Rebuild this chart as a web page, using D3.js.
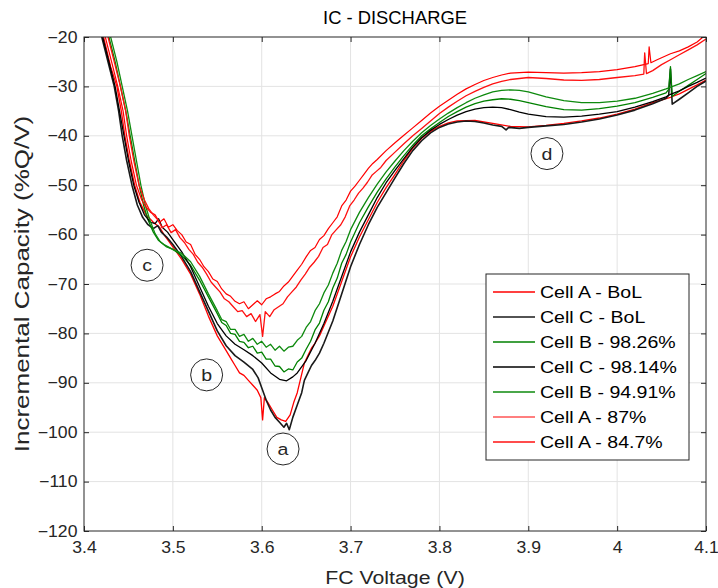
<!DOCTYPE html>
<html><head><meta charset="utf-8">
<script src="https://cdn.jsdelivr.net/npm/d3@7"></script>
<style>body{margin:0;background:#fff}svg{display:block}</style>
</head><body>
<script>
const xTicks=[3.4,3.5,3.6,3.7,3.8,3.9,4.0,4.1];
const xTickLabels=["3.4","3.5","3.6","3.7","3.8","3.9","4","4.1"];
const yTicks=[-120,-110,-100,-90,-80,-70,-60,-50,-40,-30,-20];
const legendLabels=["Cell A - BoL","Cell C - BoL","Cell B - 98.26%","Cell C - 98.14%","Cell B - 94.91%","Cell A - 87%","Cell A - 84.7%"];
const seriesColors=["#ff0000","#1a1a1a","#008000","#000000","#0e8a0e","#ff0000","#ff1010"];
const annotations=[["a",3.624,-103.4],["b",3.538,-88.4],["c",3.471,-66.2],["d",3.921,-43.6]];

const cellA_BoL=[[3.414,-12],[3.422,-20],[3.430,-26],[3.437,-30],[3.442,-35],[3.446,-40],[3.451,-45],[3.457,-50],[3.463,-53.5],[3.470,-56],[3.478,-57.5],[3.485,-58.5],[3.490,-60],[3.500,-62.5],[3.510,-65],[3.520,-68],[3.530,-72],[3.540,-76.5],[3.550,-80.5],[3.560,-83.5],[3.565,-85],[3.570,-86.5],[3.575,-88],[3.580,-88.5],[3.585,-89.5],[3.590,-90.5],[3.595,-91.5],[3.599,-93],[3.601,-97.5],[3.603,-93],[3.607,-94],[3.612,-95.5],[3.617,-97],[3.622,-97.5],[3.627,-97.8],[3.632,-96.5],[3.636,-94],[3.640,-92],[3.644,-89],[3.648,-86],[3.652,-84.5],[3.656,-83],[3.660,-82],[3.665,-80.5],[3.670,-78.5],[3.680,-74.5],[3.690,-69.5],[3.700,-64.5],[3.710,-60.5],[3.720,-57],[3.730,-53.5],[3.740,-50.5],[3.750,-47.8],[3.760,-45],[3.770,-42.5],[3.780,-40.5],[3.790,-39.1],[3.800,-38.1],[3.810,-37.4],[3.820,-37],[3.840,-36.9],[3.860,-37.5],[3.880,-38.1],[3.900,-38.2],[3.920,-37.9],[3.940,-37.5],[3.960,-37],[3.980,-36.4],[4.000,-35.6],[4.020,-34.6],[4.040,-33.3],[4.060,-32.2],[4.070,-31.5],[4.080,-30.6],[4.090,-29.7],[4.100,-28.7]];
const cellC_BoL=[[3.412,-12],[3.420,-20],[3.427,-25],[3.434,-30],[3.439,-35],[3.443,-40],[3.448,-45],[3.454,-50],[3.460,-54],[3.466,-56.5],[3.472,-58],[3.478,-58.8],[3.483,-58.2],[3.487,-59.5],[3.493,-60.5],[3.500,-62],[3.510,-64.5],[3.520,-67.5],[3.530,-71.5],[3.540,-75.5],[3.550,-79.5],[3.560,-82.5],[3.570,-84.5],[3.580,-85.8],[3.590,-87.3],[3.596,-89],[3.600,-91],[3.605,-93.5],[3.610,-95.5],[3.615,-97],[3.620,-98],[3.625,-99],[3.628,-98.2],[3.631,-99.5],[3.635,-97],[3.640,-94.5],[3.645,-92],[3.648,-89.5],[3.652,-88],[3.656,-86.5],[3.660,-85.5],[3.665,-84],[3.670,-82],[3.680,-77.5],[3.690,-72],[3.700,-66.5],[3.710,-62],[3.720,-58],[3.730,-54.5],[3.740,-51.5],[3.750,-48.5],[3.760,-45.6],[3.770,-43],[3.780,-41],[3.790,-39.4],[3.800,-38.3],[3.810,-37.6],[3.820,-37.2],[3.830,-37],[3.840,-37.1],[3.850,-37.4],[3.860,-37.8],[3.870,-38.1],[3.875,-38.8],[3.878,-38.3],[3.890,-38.5],[3.900,-38.3],[3.920,-38],[3.940,-37.7],[3.960,-37.2],[3.980,-36.6],[4.000,-35.8],[4.020,-34.8],[4.040,-33.5],[4.055,-32.4],[4.058,-31.8],[4.060,-26.5],[4.062,-33.6],[4.070,-32.6],[4.080,-31.3],[4.090,-30],[4.100,-28.9]];
const cellB_98=[[3.417,-12],[3.428,-20],[3.435,-25],[3.441,-30],[3.447,-35],[3.452,-40],[3.457,-45],[3.462,-50],[3.467,-54],[3.472,-57],[3.478,-59.5],[3.484,-61.2],[3.490,-62],[3.500,-63],[3.510,-64.2],[3.520,-66.2],[3.530,-69.2],[3.540,-72.6],[3.550,-76],[3.555,-77.8],[3.560,-78.4],[3.565,-80],[3.570,-80.2],[3.575,-81.6],[3.580,-81.8],[3.585,-82.9],[3.590,-82.6],[3.595,-84],[3.600,-83.8],[3.605,-85.2],[3.610,-85.2],[3.615,-86.6],[3.620,-86.7],[3.625,-87.8],[3.630,-87.2],[3.635,-87.4],[3.640,-85.8],[3.645,-85],[3.650,-83.2],[3.655,-81.6],[3.660,-79.3],[3.665,-77.9],[3.670,-75.3],[3.675,-73.6],[3.680,-70.8],[3.685,-68.8],[3.690,-65.8],[3.695,-64],[3.700,-61.5],[3.710,-57.6],[3.720,-54.4],[3.730,-51.4],[3.740,-48.7],[3.750,-46.3],[3.760,-44],[3.770,-41.9],[3.780,-40],[3.790,-38.6],[3.800,-37.3],[3.810,-36.1],[3.820,-35.1],[3.830,-34.2],[3.840,-33.5],[3.850,-33],[3.860,-32.7],[3.870,-32.5],[3.880,-32.6],[3.890,-32.9],[3.900,-33.3],[3.920,-34.1],[3.940,-34.7],[3.960,-34.8],[3.980,-34.5],[4.000,-34],[4.020,-33.3],[4.040,-32.2],[4.055,-31.3],[4.058,-30.6],[4.060,-26],[4.062,-32],[4.070,-31],[4.080,-29.8],[4.090,-28.6],[4.100,-27.4]];
const cellC_98=[[3.413,-12],[3.421,-20],[3.428,-25],[3.435,-30],[3.440,-35],[3.445,-40],[3.450,-45],[3.456,-50],[3.462,-53.5],[3.468,-56],[3.475,-57.5],[3.480,-57.8],[3.484,-56.8],[3.488,-58.5],[3.494,-59.5],[3.500,-61],[3.510,-63.5],[3.520,-66.5],[3.530,-70.5],[3.540,-74.5],[3.550,-78],[3.560,-80.5],[3.570,-82.2],[3.580,-83.3],[3.590,-84.5],[3.600,-86],[3.610,-88],[3.620,-89.3],[3.628,-89.6],[3.635,-88.8],[3.640,-88],[3.650,-85.5],[3.660,-82],[3.670,-78],[3.680,-73.5],[3.690,-68.5],[3.700,-63.5],[3.710,-59.5],[3.720,-56],[3.730,-52.5],[3.740,-49.5],[3.750,-47],[3.760,-44.6],[3.770,-42.3],[3.780,-40.4],[3.790,-38.9],[3.800,-37.7],[3.810,-36.7],[3.820,-35.8],[3.830,-35.1],[3.840,-34.6],[3.850,-34.3],[3.860,-34.2],[3.870,-34.3],[3.880,-34.7],[3.890,-35.2],[3.900,-35.6],[3.920,-36.1],[3.940,-36.2],[3.960,-36],[3.980,-35.6],[4.000,-35.1],[4.020,-34.2],[4.040,-33.1],[4.055,-32.1],[4.060,-31.6],[4.070,-30.9],[4.080,-30],[4.090,-29.2],[4.100,-28.3]];
const cellB_94=[[3.419,-12],[3.430,-20],[3.437,-25],[3.443,-30],[3.449,-35],[3.454,-40],[3.459,-45],[3.464,-50],[3.469,-54],[3.474,-57],[3.480,-59.8],[3.486,-61.5],[3.493,-62.5],[3.500,-63],[3.510,-63.8],[3.520,-65.5],[3.530,-68.4],[3.540,-72],[3.550,-75.4],[3.555,-77.2],[3.560,-77.6],[3.565,-79.2],[3.570,-79.2],[3.575,-80.6],[3.580,-80.2],[3.585,-81.6],[3.590,-81],[3.595,-82.2],[3.600,-81.6],[3.605,-82.8],[3.610,-82.2],[3.615,-83.4],[3.620,-82.6],[3.625,-83.6],[3.630,-82.8],[3.635,-82.6],[3.640,-81.4],[3.645,-80.6],[3.650,-78.8],[3.655,-77.6],[3.660,-75.4],[3.665,-74],[3.670,-71.8],[3.675,-70.2],[3.680,-67.8],[3.685,-65.8],[3.690,-63.2],[3.695,-61.4],[3.700,-59],[3.710,-55.5],[3.720,-52.5],[3.730,-49.8],[3.740,-47.3],[3.750,-45.1],[3.760,-43],[3.770,-41.1],[3.780,-39.4],[3.790,-37.9],[3.800,-36.6],[3.810,-35.4],[3.820,-34.3],[3.830,-33.3],[3.840,-32.4],[3.850,-31.7],[3.860,-31.1],[3.870,-30.8],[3.880,-30.7],[3.890,-30.8],[3.900,-31.1],[3.920,-32.1],[3.940,-32.9],[3.960,-33.3],[3.980,-33.3],[4.000,-33],[4.020,-32.4],[4.040,-31.4],[4.055,-30.5],[4.070,-29.5],[4.080,-28.6],[4.090,-27.8],[4.100,-27]];
const cellA_87=[[3.415,-12],[3.424,-20],[3.431,-25],[3.438,-30],[3.444,-35],[3.448,-40],[3.453,-45],[3.459,-50],[3.465,-53],[3.470,-54.5],[3.475,-55.5],[3.480,-56],[3.485,-57.5],[3.490,-56.8],[3.495,-58.5],[3.500,-58],[3.505,-59.2],[3.510,-60],[3.515,-61.5],[3.520,-62],[3.525,-64],[3.530,-65],[3.535,-66.5],[3.540,-67.5],[3.545,-69],[3.550,-69.5],[3.555,-71],[3.560,-72],[3.565,-72.5],[3.570,-73.5],[3.575,-74],[3.580,-73.6],[3.585,-75],[3.590,-74.2],[3.595,-73.4],[3.600,-74.2],[3.605,-73],[3.610,-72.6],[3.615,-72],[3.620,-71.5],[3.625,-70.4],[3.630,-69.6],[3.635,-68.4],[3.640,-67.2],[3.645,-66],[3.650,-64.5],[3.655,-63.2],[3.660,-62.6],[3.665,-61],[3.670,-60.2],[3.675,-58.8],[3.680,-57.6],[3.685,-56.4],[3.690,-54.2],[3.695,-53],[3.700,-51.2],[3.705,-50.2],[3.710,-49],[3.715,-47.8],[3.720,-46.6],[3.725,-45.6],[3.730,-44.8],[3.740,-43],[3.750,-41.4],[3.760,-39.9],[3.770,-38.4],[3.780,-36.9],[3.790,-35.4],[3.800,-34],[3.810,-32.8],[3.820,-31.6],[3.830,-30.5],[3.840,-29.6],[3.850,-28.8],[3.860,-28.2],[3.870,-27.7],[3.880,-27.3],[3.900,-27.1],[3.920,-27.2],[3.940,-27.3],[3.960,-27.2],[3.980,-27],[4.000,-26.6],[4.020,-26],[4.030,-25.6],[4.035,-25.4],[4.036,-22],[4.038,-25.2],[4.045,-24.6],[4.050,-24.2],[4.060,-23.4],[4.070,-22.8],[4.080,-22],[4.090,-21],[4.100,-19.5]];
const cellA_84=[[3.418,-12],[3.427,-20],[3.434,-25],[3.441,-30],[3.447,-35],[3.451,-40],[3.456,-45],[3.462,-50],[3.468,-53],[3.473,-54.8],[3.478,-56],[3.483,-57],[3.488,-58.6],[3.493,-58],[3.498,-59.6],[3.503,-59],[3.508,-60.6],[3.513,-61.6],[3.518,-63],[3.523,-64],[3.528,-65.6],[3.533,-66.6],[3.538,-68],[3.543,-69.6],[3.548,-70.6],[3.553,-71.6],[3.558,-73],[3.563,-73.6],[3.568,-74.6],[3.573,-75.6],[3.578,-75.4],[3.583,-76.6],[3.588,-76],[3.593,-77.6],[3.598,-76.2],[3.601,-80.6],[3.604,-75.6],[3.609,-76.6],[3.614,-75.2],[3.619,-74.6],[3.624,-74],[3.629,-72.6],[3.634,-71.6],[3.639,-70.6],[3.644,-69.2],[3.649,-68],[3.654,-66.6],[3.659,-65.6],[3.664,-64.4],[3.669,-62.6],[3.674,-62],[3.679,-60],[3.684,-59],[3.689,-58],[3.694,-56.4],[3.699,-54.2],[3.704,-53],[3.709,-51.6],[3.714,-50.6],[3.719,-49.4],[3.724,-48],[3.729,-47.2],[3.734,-46.4],[3.740,-45],[3.750,-43.3],[3.760,-41.6],[3.770,-40],[3.780,-38.5],[3.790,-37],[3.800,-35.5],[3.810,-34.2],[3.820,-33],[3.830,-31.9],[3.840,-31],[3.850,-30.2],[3.860,-29.5],[3.870,-29],[3.880,-28.6],[3.900,-28.2],[3.920,-28.4],[3.940,-28.7],[3.960,-28.8],[3.980,-28.6],[4.000,-28.2],[4.020,-27.8],[4.030,-27.5],[4.031,-23.2],[4.033,-27.4],[4.040,-26.8],[4.050,-25.6],[4.060,-24.6],[4.070,-23.6],[4.080,-22.6],[4.090,-21.6],[4.100,-20.4]];

const seriesData=[cellA_BoL,cellC_BoL,cellB_98,cellC_98,cellB_94,cellA_87,cellA_84];
const seriesWidths=[1.3,1.6,1.3,1.3,1.3,1.2,1.3];

const W=718,H=588,L=84,T=37,R=706,B=531;
const TXT="#262626", FONT="'Liberation Sans', Arial, Helvetica, sans-serif", SX=1.15, TSX=1.1;
const svg=d3.select("body").append("svg").attr("width",W).attr("height",H)
  .style("font-family",FONT);
const x=d3.scaleLinear().domain([3.4,4.1]).range([L,R]);
const y=d3.scaleLinear().domain([-120,-20]).range([B,T]);

// grid
const grid=svg.append("g").attr("stroke","#e3e3e3").attr("stroke-width",1);
grid.selectAll("line.v").data(xTicks.slice(1,-1)).join("line")
  .attr("x1",d=>x(d)).attr("x2",d=>x(d)).attr("y1",T).attr("y2",B);
grid.selectAll("line.h").data(yTicks.slice(1,-1)).join("line")
  .attr("y1",d=>y(d)).attr("y2",d=>y(d)).attr("x1",L).attr("x2",R);

// lines
svg.append("clipPath").attr("id","clip").append("rect")
  .attr("x",L).attr("y",T).attr("width",R-L).attr("height",B-T);
const line=d3.line().x(d=>x(d[0])).y(d=>y(d[1])).curve(d3.curveLinear);
const gl=svg.append("g").attr("clip-path","url(#clip)");
seriesData.forEach((s,i)=>{
  gl.append("path").datum(s).attr("d",line).attr("fill","none")
    .attr("stroke",seriesColors[i]).attr("stroke-width",seriesWidths[i])
    .attr("stroke-linejoin","round");
});

// axes
function styleAxis(g){
  g.select(".domain").remove();
  g.selectAll(".tick line").attr("stroke",TXT);
  g.selectAll(".tick text").attr("fill",TXT).style("font-size","16px")
   .style("font-family",FONT).attr("transform",`scale(${TSX},1)`);
}
svg.append("g").attr("transform",`translate(0,${B})`)
  .call(d3.axisBottom(x).tickValues(xTicks).tickFormat((d,i)=>xTickLabels[i]).tickSizeInner(-5).tickSizeOuter(0).tickPadding(11))
  .call(styleAxis);
svg.append("g").attr("transform",`translate(0,${T})`)
  .call(d3.axisTop(x).tickValues(xTicks).tickFormat("").tickSizeInner(-5).tickSizeOuter(0))
  .call(styleAxis);
svg.append("g").attr("transform",`translate(${L},0)`)
  .call(d3.axisLeft(y).tickValues(yTicks).tickFormat(d3.format("d")).tickSizeInner(-5).tickSizeOuter(0).tickPadding(6))
  .call(styleAxis);
svg.append("g").attr("transform",`translate(${R},0)`)
  .call(d3.axisRight(y).tickValues(yTicks).tickFormat("").tickSizeInner(-5).tickSizeOuter(0))
  .call(styleAxis);
svg.append("rect").attr("x",L).attr("y",T).attr("width",R-L).attr("height",B-T)
  .attr("fill","none").attr("stroke",TXT).attr("stroke-width",1);

// annotations
const ga=svg.append("g");
annotations.forEach(a=>{
  ga.append("circle").attr("cx",x(a[1])).attr("cy",y(a[2])).attr("r",16)
    .attr("fill","none").attr("stroke",TXT).attr("stroke-width",1);
  ga.append("text").attr("transform",`translate(${x(a[1])},${y(a[2])}) scale(${SX},1)`)
    .attr("text-anchor","middle").attr("dy","0.36em").attr("fill",TXT)
    .style("font-size","17px").text(a[0]);
});

// title & labels
svg.append("text").attr("transform",`translate(${(L+R)/2},18) scale(1.05,1)`).attr("dy","0.36em")
  .attr("text-anchor","middle").attr("fill","#000").style("font-size","17.5px").text("IC - DISCHARGE");
svg.append("text").attr("transform",`translate(${(L+R)/2},577) scale(${SX},1)`).attr("dy","0.36em")
  .attr("text-anchor","middle").attr("fill",TXT).style("font-size","18.5px").text("FC Voltage (V)");
svg.append("text").attr("transform",`translate(22,${(T+B)/2}) rotate(-90) scale(1.3,1)`).attr("dy","0.36em")
  .attr("text-anchor","middle").attr("fill",TXT).style("font-size","20px").text("Incremental Capacity (%Q/V)");

// legend
const lg=svg.append("g");
lg.append("rect").attr("x",486).attr("y",274).attr("width",203).attr("height",186)
  .attr("fill","#fff").attr("stroke",TXT).attr("stroke-width",1);
legendLabels.forEach((lab,i)=>{
  const yc=292+i*25;
  lg.append("line").attr("x1",493).attr("x2",535).attr("y1",yc).attr("y2",yc)
    .attr("stroke",seriesColors[i]).attr("stroke-width",seriesWidths[i]);
  lg.append("text").attr("transform",`translate(540,${yc}) scale(${SX},1)`).attr("dy","0.36em")
    .attr("fill","#000").style("font-size","17px").text(lab);
});
</script>
</body></html>
